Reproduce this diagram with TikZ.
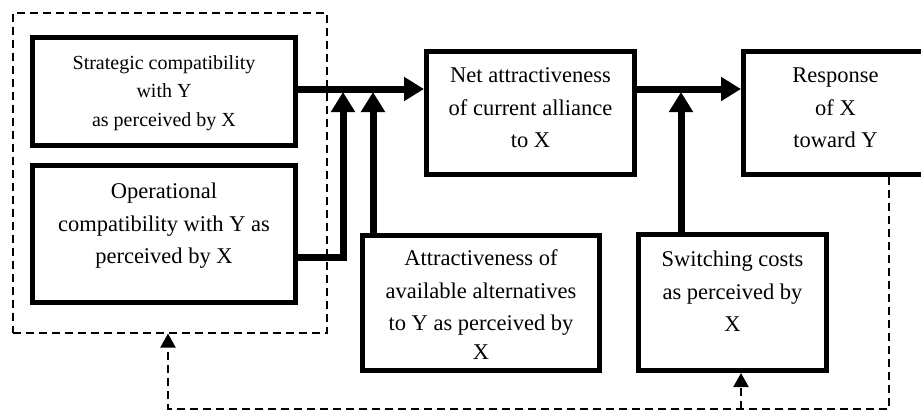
\documentclass[tikz,border=0pt]{standalone}
\usepackage{fontspec}
\setmainfont{Liberation Serif}
\usetikzlibrary{arrows.meta}
\begin{document}
\begin{tikzpicture}[x=1pt,y=-1pt,
  box/.style={draw,line width=5pt,inner sep=0pt,rectangle},
  txt/.style={align=center,inner sep=0pt,font=\fontsize{22.5}{32.5}\selectfont},
  conn/.style={line width=7pt,-{Triangle[length=20pt,width=23pt]}},
  fb/.style={line width=2pt,dash pattern=on 8pt off 5pt},
  fbarrow/.style={fb,-{Triangle[length=14pt,width=15pt]}}]
\useasboundingbox (0,0) rectangle (921,410);
% dashed group
\node[draw,line width=2pt,dash pattern=on 8pt off 5pt,minimum width=314pt,minimum height=320pt,inner sep=0pt] (grp) at (169.5,172.5) {};
% boxes
\node[box,minimum width=263pt,minimum height=108pt] (strat) at (164,91.5) {};
\node[box,minimum width=263pt,minimum height=137pt] (oper) at (164,234) {};
\node[box,minimum width=208pt,minimum height=123pt] (net) at (530.5,113) {};
\node[box,minimum width=206.5pt,minimum height=123pt] (resp) at (846.75,113) {};
\node[box,minimum width=237pt,minimum height=135pt] (attr) at (481,303) {};
\node[box,minimum width=188pt,minimum height=136pt] (switch) at (732.5,302.5) {};
% texts
\node[txt,font=\fontsize{20}{28.5}\selectfont] (stratT) at (164,93) {Strategic compatibility\\with Y\\as perceived by X};
\node[txt] (operT) at (164,226) {Operational\\compatibility with Y as\\perceived by X};
\node[txt] (netT) at (530.5,108) {Net attractiveness\\of current alliance\\to X};
\node[txt] (respT) at (835.5,108) {Response\\of X\\toward Y};
\node[txt] (attrT) at (481,304.5) {Attractiveness of\\available alternatives\\to Y as perceived by\\[-4pt]X};
\node[txt] (switchT) at (732.5,291.5) {Switching costs\\as perceived by\\X};
% coordinates
\coordinate (hj) at (0,89);
\coordinate (opJ) at (343,257);
\coordinate (opT) at (343,92);
\coordinate (aT) at (373,92);
\coordinate (sT) at (681,92);
\coordinate (fbR) at (889,408.5);
\coordinate (fbL) at (168,408.5);
\coordinate (fbS) at (741,408.5);
% connectors
\draw[conn] (strat.east |- hj) -- (net.west |- hj);
\draw[conn] (oper.east |- opJ) -- (opJ) -- (opT);
\draw[conn] (aT |- attr.north) -- (aT);
\draw[conn] (net.east |- hj) -- (resp.west |- hj);
\draw[conn] (sT |- switch.north) -- (sT);
% feedback
\draw[fbarrow] (resp.south -| fbR) -- (fbR) -- (fbL) -- (fbL |- grp.south);
\draw[fbarrow] (fbS) -- (fbS |- switch.south);
\end{tikzpicture}
\end{document}
